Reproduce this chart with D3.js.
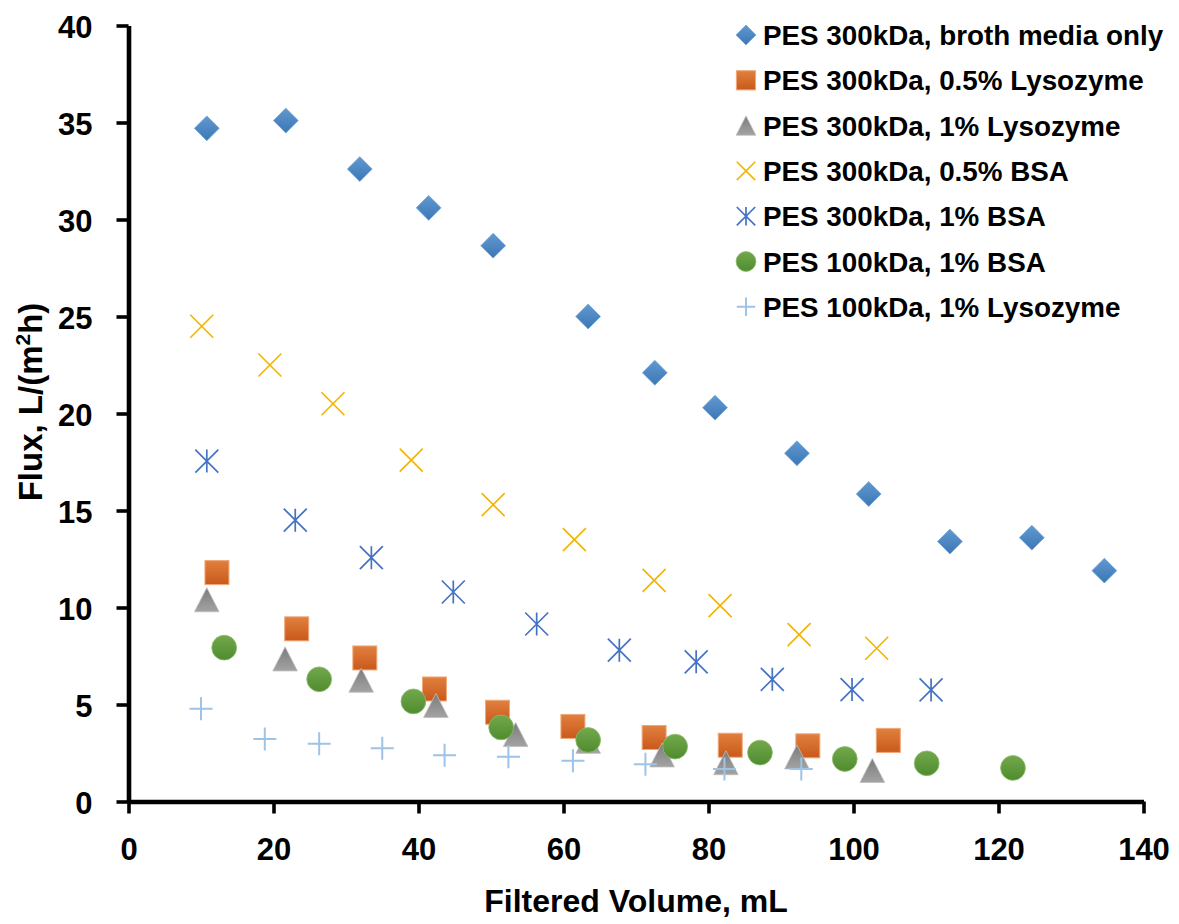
<!DOCTYPE html>
<html>
<head>
<meta charset="utf-8">
<script src="https://cdn.jsdelivr.net/npm/d3@7"></script>
<style>
  html, body { margin: 0; padding: 0; background: #fff; }
  svg text { font-family: "Liberation Sans", Arial, sans-serif; font-weight: bold; fill: #000; }
</style>
</head>
<body>
<svg id="chart" width="1179" height="924"></svg>
<script>
// ---- data ----
const seriesNames = [
  "PES 300kDa, broth media only",
  "PES 300kDa, 0.5% Lysozyme",
  "PES 300kDa, 1% Lysozyme",
  "PES 300kDa, 0.5% BSA",
  "PES 300kDa, 1% BSA",
  "PES 100kDa, 1% BSA",
  "PES 100kDa, 1% Lysozyme"
];
const brothX = [10.8, 21.7, 31.9, 41.4, 50.3, 63.4, 72.6, 80.9, 92.2, 102.1, 113.3, 124.6, 134.6];
const brothY = [34.7, 35.1, 32.6, 30.6, 28.65, 25.0, 22.1, 20.3, 17.95, 15.85, 13.4, 13.6, 11.9];
const lys05X = [12.2, 23.2, 32.6, 42.2, 50.9, 61.3, 72.5, 83.0, 93.7, 104.8];
const lys05Y = [11.8, 8.9, 7.4, 5.8, 4.6, 3.87, 3.3, 2.9, 2.87, 3.15];
const lys1X  = [10.8, 21.6, 32.1, 42.4, 53.4, 63.4, 73.6, 82.4, 92.2, 102.6];
const lys1Y  = [10.4, 7.35, 6.25, 4.95, 3.45, 3.1, 2.4, 2.0, 2.3, 1.6];
const bsa05X = [10.1, 19.5, 28.2, 39.0, 50.3, 61.5, 72.5, 81.6, 92.5, 103.2];
const bsa05Y = [24.5, 22.5, 20.5, 17.6, 15.3, 13.5, 11.4, 10.1, 8.6, 7.9];
const bsa1X  = [10.8, 23.0, 33.5, 44.8, 56.3, 67.7, 78.3, 88.8, 99.8, 110.7];
const bsa1Y  = [17.55, 14.5, 12.57, 10.8, 9.15, 7.8, 7.2, 6.3, 5.77, 5.75];
const k100bsaX = [13.2, 26.3, 39.3, 51.4, 63.4, 75.4, 87.1, 98.8, 110.1, 122.0];
const k100bsaY = [7.93, 6.3, 5.16, 3.82, 3.17, 2.83, 2.52, 2.19, 1.97, 1.73];
const k100lysX = [10.0, 18.8, 26.3, 35.0, 43.6, 52.4, 61.3, 71.3, 82.2, 92.8];
const k100lysY = [4.78, 3.22, 2.98, 2.74, 2.38, 2.31, 2.1, 1.92, 1.68, 1.68];
const xTicks = [0, 20, 40, 60, 80, 100, 120, 140];
const yTicks = [0, 5, 10, 15, 20, 25, 30, 35, 40];

const seriesX = [brothX, lys05X, lys1X, bsa05X, bsa1X, k100bsaX, k100lysX];
const seriesY = [brothY, lys05Y, lys1Y, bsa05Y, bsa1Y, k100bsaY, k100lysY];
const markerTypes = ["diamond", "square", "triangle", "x", "asterisk", "circle", "plus"];

// ---- drawing ----
const svg = d3.select("#chart");
const x = d3.scaleLinear().domain([0, 140]).range([128.5, 1143.5]);
const y = d3.scaleLinear().domain([0, 40]).range([801.5, 25.5]);

const defs = svg.append("defs");
function grad(id, c1, c2) {
  const g = defs.append("linearGradient").attr("id", id)
    .attr("x1", 0).attr("y1", 0).attr("x2", 0).attr("y2", 1);
  g.append("stop").attr("offset", "0%").attr("stop-color", c1);
  g.append("stop").attr("offset", "100%").attr("stop-color", c2);
}
grad("gDiamond", "#6199d0", "#3c77b5");
grad("gSquare", "#e0803f", "#c9591a");
grad("gTri", "#7b7b7b", "#a3a3a3");
grad("gCircle", "#73a84c", "#4f8c2f");

function drawMarker(g, type, s) {
  const h = 12.4 * s;
  switch (type) {
    case "diamond":
      g.append("path").attr("d", `M0,${-h}L${h},0L0,${h}L${-h},0Z`)
        .attr("fill", "url(#gDiamond)").attr("stroke", "#6ea3d8").attr("stroke-width", 0.8);
      break;
    case "square": {
      const a = 12 * s;
      g.append("rect").attr("x", -a).attr("y", -a).attr("width", 2 * a).attr("height", 2 * a)
        .attr("fill", "url(#gSquare)").attr("stroke", "#f1a879").attr("stroke-width", 1);
      break;
    }
    case "triangle": {
      const w = 12.3 * s, t = 12 * s;
      g.append("path").attr("d", `M0,${-t}L${w},${t}L${-w},${t}Z`)
        .attr("fill", "url(#gTri)").attr("stroke", "#bdbdbd").attr("stroke-width", 0.8);
      break;
    }
    case "circle":
      g.append("circle").attr("r", 12.4 * s)
        .attr("fill", "url(#gCircle)").attr("stroke", "#8cbd6c").attr("stroke-width", 0.8);
      break;
    case "x": {
      const a = 11.5 * s;
      g.append("path").attr("d", `M${-a},${-a}L${a},${a}M${-a},${a}L${a},${-a}`)
        .attr("stroke", "#f2b400").attr("stroke-width", 1.6).attr("fill", "none");
      break;
    }
    case "asterisk": {
      const a = 11.5 * s;
      g.append("path").attr("d", `M${-a},${-a}L${a},${a}M${-a},${a}L${a},${-a}M0,${-a}L0,${a}`)
        .attr("stroke", "#4472c4").attr("stroke-width", 1.7).attr("fill", "none");
      break;
    }
    case "plus": {
      const a = 11.5 * s;
      g.append("path").attr("d", `M${-a},0L${a},0M0,${-a}L0,${a}`)
        .attr("stroke", "#9dc3e6").attr("stroke-width", 2).attr("fill", "none");
      break;
    }
  }
}

// axes
const xAxis = d3.axisBottom(x).tickValues(xTicks).tickSize(12).tickSizeOuter(0).tickPadding(24);
const yAxis = d3.axisLeft(y).tickValues(yTicks).tickSize(12).tickSizeOuter(0).tickPadding(24);

const gx = svg.append("g").attr("transform", `translate(0,${y(0)})`).call(xAxis);
const gy = svg.append("g").attr("transform", `translate(${x(0)},0)`).call(yAxis);
[gx, gy].forEach(g => {
  g.select(".domain").attr("stroke", "#000").attr("stroke-width", 4.6);
  g.selectAll(".tick line").attr("stroke", "#000").attr("stroke-width", 3.6);
  g.selectAll(".tick text").attr("font-size", 31).attr("font-weight", "bold")
    .attr("font-family", "Liberation Sans, Arial, sans-serif").attr("fill", "#000");
});
gx.selectAll(".tick text").attr("dy", "0.72em");
gy.selectAll(".tick text").attr("dy", "0.38em");

// series
seriesX.forEach((xs, i) => {
  const pts = xs.map((v, j) => [v, seriesY[i][j]]);
  const g = svg.append("g").attr("class", "series-" + i);
  g.selectAll("g.pt").data(pts).enter().append("g").attr("class", "pt")
    .attr("transform", d => `translate(${x(d[0])},${y(d[1])})`)
    .each(function () { drawMarker(d3.select(this), markerTypes[i], 1); });
});

// legend
const legend = svg.append("g").attr("transform", "translate(746,35)");
seriesNames.forEach((name, i) => {
  const row = legend.append("g").attr("transform", `translate(0,${i * 45.3})`);
  drawMarker(row.append("g"), markerTypes[i], 0.8);
  row.append("text").attr("x", 17).attr("y", 10).attr("font-size", 27.8).text(name);
});

// axis titles
svg.append("text").attr("x", 636).attr("y", 912).attr("text-anchor", "middle")
  .attr("font-size", 32).text("Filtered Volume, mL");
const yt = svg.append("text").attr("transform", "translate(42,402) rotate(-90)")
  .attr("text-anchor", "middle").attr("font-size", 33);
yt.append("tspan").text("Flux, L/(m");
yt.append("tspan").attr("font-size", 21).attr("dy", -12).text("2");
yt.append("tspan").attr("dy", 12).text("h)");
</script>
</body>
</html>
